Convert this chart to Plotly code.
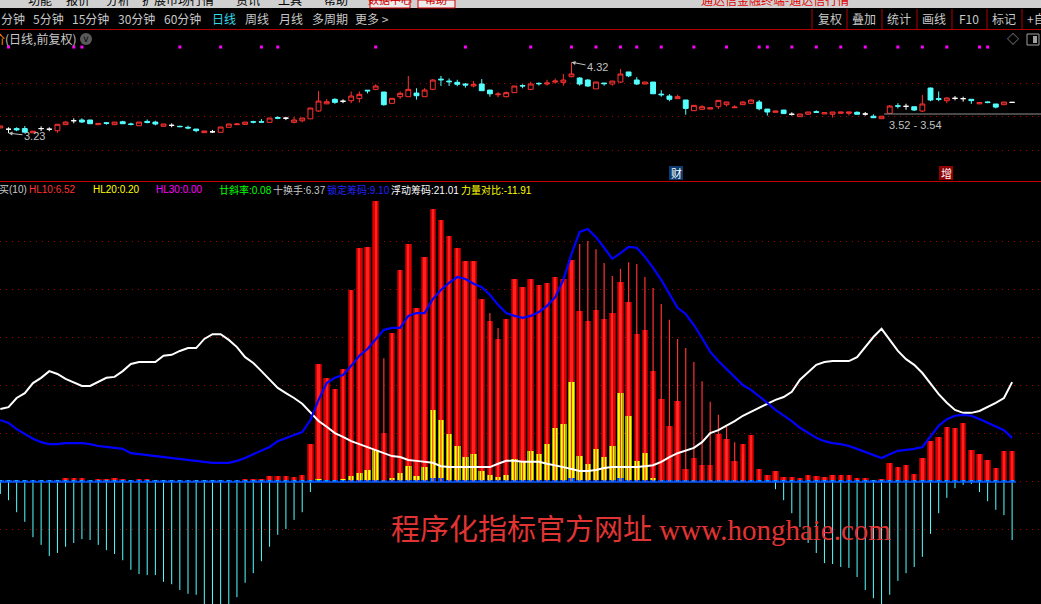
import plotly.graph_objects as go

W, H = 1041, 604
N = 125
idx = list(range(N))

# ---------------- candlestick data (price) ----------------
open_ = [3.31,3.29,3.30,3.30,3.235,3.30,3.29,3.267,3.36,3.421,
         3.432,3.432,3.36,3.39,3.36,3.405,3.37,3.344,3.41,3.40,
         3.335,3.35,3.335,3.32,3.293,3.237,3.25,3.243,3.32,3.36,
         3.365,3.405,3.405,3.396,3.47,3.46,3.396,3.42,3.45,3.57,
         3.68,3.75,3.72,3.728,3.76,3.89,3.903,3.862,3.688,3.79,
         3.79,3.846,3.79,3.903,4.06,4.03,4.01,3.985,3.955,3.985,
         3.892,3.82,3.79,3.852,3.96,3.903,3.995,3.985,4.015,4.01,
         4.097,4.077,4.046,3.91,4.0,3.985,4.015,4.17,4.046,3.985,
         4.015,3.83,3.80,3.76,3.739,3.575,3.596,3.60,3.636,3.667,
         3.62,3.667,3.688,3.708,3.60,3.55,3.585,3.52,3.483,3.52,
         3.56,3.525,3.52,3.535,3.535,3.55,3.524,3.49,3.452,3.535,
         3.65,3.642,3.636,3.57,3.923,3.76,3.728,3.765,3.76,3.75,
         3.68,3.71,3.678,3.667,3.703]
high = [3.34,3.32,3.32,3.34,3.26,3.335,3.32,3.366,3.416,3.458,
        3.458,3.432,3.38,3.40,3.40,3.42,3.39,3.40,3.44,3.42,
        3.37,3.38,3.345,3.345,3.293,3.263,3.28,3.324,3.37,3.385,
        3.40,3.42,3.445,3.462,3.49,3.48,3.48,3.462,3.616,3.876,
        3.754,3.765,3.75,3.87,3.87,3.89,3.98,3.862,3.765,3.87,
        4.108,3.92,3.92,4.06,4.11,4.07,4.05,4.0,4.03,4.06,
        3.892,3.86,3.87,3.954,3.98,4.02,4.01,4.05,4.07,4.14,
        4.32,4.09,4.06,4.015,4.0,4.03,4.215,4.17,4.09,4.015,
        4.015,3.89,3.83,3.82,3.739,3.657,3.66,3.62,3.734,3.708,
        3.66,3.72,3.75,3.739,3.60,3.57,3.585,3.55,3.524,3.555,
        3.58,3.545,3.555,3.555,3.555,3.565,3.555,3.52,3.49,3.66,
        3.69,3.682,3.636,3.816,3.93,3.87,3.78,3.80,3.79,3.75,
        3.70,3.72,3.678,3.708,3.703]
low = [3.31,3.23,3.26,3.235,3.235,3.263,3.26,3.237,3.36,3.381,
       3.386,3.375,3.36,3.36,3.36,3.375,3.35,3.344,3.38,3.35,
       3.335,3.32,3.32,3.29,3.243,3.237,3.235,3.243,3.32,3.36,
       3.365,3.38,3.40,3.396,3.445,3.43,3.38,3.396,3.45,3.555,
       3.68,3.68,3.69,3.69,3.70,3.84,3.89,3.65,3.688,3.755,
       3.79,3.745,3.79,3.89,3.955,3.955,3.95,3.93,3.935,3.882,
       3.79,3.78,3.78,3.852,3.92,3.89,3.96,3.96,3.99,3.96,
       4.09,3.96,3.94,3.91,3.96,3.96,4.0,4.09,3.97,3.985,
       3.835,3.79,3.72,3.76,3.513,3.575,3.596,3.60,3.60,3.64,
       3.62,3.667,3.688,3.58,3.50,3.55,3.53,3.50,3.483,3.52,
       3.54,3.525,3.47,3.535,3.50,3.52,3.498,3.467,3.452,3.535,
       3.61,3.59,3.57,3.555,3.72,3.72,3.69,3.734,3.714,3.68,
       3.68,3.69,3.61,3.667,3.703]
close = [3.34,3.29,3.28,3.245,3.26,3.30,3.29,3.366,3.40,3.421,
         3.401,3.375,3.38,3.38,3.40,3.375,3.365,3.40,3.395,3.37,
         3.37,3.35,3.33,3.31,3.268,3.263,3.25,3.324,3.37,3.37,
         3.40,3.40,3.40,3.462,3.46,3.46,3.432,3.462,3.616,3.723,
         3.713,3.703,3.72,3.80,3.826,3.88,3.954,3.667,3.765,3.842,
         3.903,3.805,3.892,4.046,4.05,4.02,3.98,3.97,3.98,3.882,
         3.835,3.83,3.852,3.954,3.955,3.985,3.99,4.0,4.03,4.046,
         4.14,3.985,3.954,4.015,3.99,4.03,4.138,4.11,3.985,4.015,
         3.835,3.82,3.75,3.79,3.61,3.657,3.636,3.62,3.734,3.708,
         3.63,3.708,3.739,3.605,3.555,3.57,3.53,3.52,3.524,3.555,
         3.55,3.545,3.555,3.555,3.555,3.52,3.524,3.467,3.49,3.647,
         3.645,3.642,3.585,3.678,3.739,3.75,3.77,3.765,3.76,3.73,
         3.70,3.70,3.63,3.708,3.703]

marker_days = [1, 9, 10, 22, 27, 32, 34, 46, 57, 65, 70, 73, 76, 78, 81, 85,
               89, 93, 94, 97, 100, 103, 106, 110, 113, 116, 120, 121]
marker_level = 4.553
price_grid = [2.971, 3.482, 3.995]
range_line_price = 3.524
range_line_start = 108.3

# ---------------- indicator data ----------------
red_bar = [0.3,0.2,0.3,0.2,0.2,0.2,0.3,0.5,0.9,0.9,
           0.9,0.5,0.7,0.7,0.9,0.7,0.5,0.7,0.7,0.5,
           0.5,0.5,0.3,0.3,0.2,0.2,0.2,0.3,0.5,0.5,
           0.7,0.7,0.7,1.3,1.3,1.3,1.0,1.5,7.9,24.6,
           21.7,19.4,23.5,40.0,48.8,49.0,58.5,10.2,31.0,44.2,
           49.6,36.3,46.9,56.9,54.6,51.3,48.8,46.0,46.0,38.1,
           33.5,29.8,34.0,42.3,40.6,42.3,41.0,41.5,42.7,42.3,
           46.3,35.6,33.5,35.8,34.0,35.2,41.7,37.5,30.8,31.7,
           23.1,17.3,11.7,16.9,2.7,5.0,3.5,3.5,10.0,9.0,
           4.4,7.9,9.8,2.7,1.5,2.3,1.0,1.0,0.8,1.5,
           1.3,1.0,1.5,1.5,1.5,0.8,0.8,0.4,0.6,4.0,
           3.1,3.5,1.7,5.0,8.5,9.4,11.5,11.3,12.3,6.7,
           5.8,4.6,2.9,6.5,6.5]
thin_line = [0]*47 + [25.8] + [0]*12 + [35.2, 32.1] + [0]*9 + \
            [49.6,50.2,48.5,45.6,42.9,44.4,45.8,45.4,42.7,
             40.4,37.1,33.8,29.8,27.9,25.0,21.0,16.7,14.0,11.5,
             8.3,5.6] + [0]*33
yellow_bar = [0]*39 + [0.6,
              0.4,0.4,0.6,1.3,1.9,2.5,6.7,0.2,0.8,1.9,
              3.3,1.3,3.1,15.0,12.9,10.0,7.5,5.2,5.8,2.3,
              1.5,1.0,1.5,4.8,4.2,6.5,5.8,7.9,11.3,12.1,
              20.8,5.4,3.8,6.9,5.2,7.5,18.5,13.8,4.4,6.0,
              0.9,0.4,0.4,0.4,0.2,0.2,0.2,0.2,0.2,0.2,
              0.2,0.2,0.2] + [0]*21 + [0.4]*5 + [0]*6
blue_bar = [0.3]*37 + [0.4]*16 + [0.8, 0.8] + [0.4]*13 + [0.5, 0.5, 0.9] + \
           [0.4]*5 + [0.9] + [0.4]*16 + [0.3]*32
cyan_line = [-2.5,-3.8,-6.3,-8.3,-11.5,-13.1,-15.4,-14.8,-13.5,-12.7,
             -11.9,-12.1,-13.1,-14.2,-15.0,-16.3,-18.3,-19.2,-19.4,-19.4,
             -20.8,-21.3,-22.5,-23.3,-23.5,-26.5,-28.0,-28.5,-27.0,-24.0,
             -21.0,-19.0,-16.5,-13.5,-11.0,-9.8,-7.9,-6.3,-2.1] + [0]*56 + \
            [-1.5,-3.8,-6.5,-9.4,-12.7,
             -14.8,-16.9,-17.1,-17.7,-17.9,-19.8,-22.5,-24.2,-26.5,-23.5,
             -20.6,-19.0,-17.7,-15.6,-10.8,-6.5,-3.3,-1.3,-0.6,-0.4,
             -2.1,-4.0,-5.8,-6.9,-12.1]
white_line = [15.2,15.6,17.5,18.5,20.6,21.7,23.1,22.5,21.5,20.8,
              20.0,20.0,20.8,21.7,21.9,23.1,24.6,25.0,25.0,25.0,
              26.3,26.5,27.3,27.9,27.9,29.8,30.8,30.8,29.6,28.1,
              26.0,24.8,23.1,21.3,19.6,18.5,17.5,16.3,14.6,12.7,
              11.5,10.2,9.4,8.5,7.9,7.3,6.7,6.0,5.4,5.2,
              4.6,4.4,4.2,4.0,3.3,3.1,3.1,3.1,3.1,3.1,
              3.1,3.8,4.4,4.4,4.2,4.2,4.2,3.8,3.5,3.1,
              2.7,2.3,2.3,2.5,2.9,3.1,3.1,3.1,3.1,3.3,
              3.5,4.2,5.2,6.0,6.5,7.1,8.3,10.2,10.8,11.7,
              12.7,13.8,14.6,15.4,16.3,17.1,17.7,18.8,21.3,22.9,
              24.4,25.0,25.2,25.2,25.2,26.0,28.1,30.2,31.9,29.6,
              27.3,25.6,24.4,22.7,20.6,18.3,16.5,15.0,14.4,14.4,
              14.8,15.6,16.5,17.5,20.8]
blue_line = [12.9,12.3,11.0,10.0,9.0,8.3,7.9,7.9,8.1,8.1,
             8.1,7.9,7.5,7.3,7.1,6.9,6.0,5.8,5.6,5.4,
             5.2,5.0,4.8,4.6,4.4,4.2,4.0,4.0,4.0,4.4,
             5.0,5.8,6.5,7.3,8.5,9.2,9.8,10.4,12.9,17.1,
             20.6,21.7,22.3,24.2,26.3,27.7,29.8,31.7,32.1,32.1,
             34.6,35.2,35.2,38.1,40.0,41.5,42.7,42.3,41.3,40.6,
             39.0,36.9,35.2,34.6,34.2,34.6,35.4,36.7,38.5,42.1,
             47.5,52.1,52.7,51.0,48.8,46.5,47.7,49.0,48.8,46.9,
             44.6,42.1,39.2,36.3,35.0,32.7,30.0,27.1,25.2,23.5,
             21.9,20.2,19.2,17.9,16.5,15.0,13.8,12.7,11.3,10.2,
             9.2,8.5,8.1,7.9,7.5,6.9,6.3,5.6,5.0,5.8,
             6.5,6.7,6.9,7.3,9.6,11.7,13.1,13.8,14.0,13.8,
             13.1,12.3,11.5,10.8,9.2]
ind_grid = [-10, 0, 10, 20, 30, 40, 50]

for arr in (open_, high, low, close, red_bar, thin_line, yellow_bar, blue_bar,
            cyan_line, white_line, blue_line):
    assert len(arr) == N, len(arr)

# ---------------- text ----------------
menu_items = ["分钟", "5分钟", "15分钟", "30分钟", "60分钟", "日线", "周线", "月线", "多周期", "更多 >"]
menu_x = [0, 32, 71, 117, 163, 211, 244, 278, 311, 354]
button_items = ["复权", "叠加", "统计", "画线", "F10", "标记", "+自"]
button_x = [830, 864, 899, 934, 969, 1004, 1036]
button_sep = [812, 847, 882, 917, 952, 987, 1022]
top_items = ["功能", "报价", "分析", "扩展市场行情", "资讯", "工具", "帮助"]
top_x = [40, 78, 118, 178, 248, 290, 336]
legend_items = [("买(10)", "#c8c8c8", -2), ("HL10:6.52", "#ff3232", 28),
                ("HL20:0.20", "#ffff00", 92), ("HL30:0.00", "#ff00ff", 155),
                ("廿斜率:0.08", "#00ff00", 218), ("十换手:6.37", "#c8c8c8", 272),
                ("锁定筹码:9.10", "#2424ff", 326), ("浮动筹码:21.01", "#ffffff", 390),
                ("力量对比:-11.91", "#ffff00", 460)]
legend_font = "Liberation Sans, Noto Sans CJK SC"

# ---------------- figure ----------------
fig = go.Figure()

# indicator bars (lower panel)
fig.add_trace(go.Bar(x=idx, y=red_bar, width=0.8, marker=dict(color="#980000", line=dict(width=0))))
fig.add_trace(go.Bar(x=idx, y=red_bar, width=0.55, marker=dict(color="#dc0000", line=dict(width=0))))
fig.add_trace(go.Bar(x=idx, y=red_bar, width=0.28, marker=dict(color="#ff2020", line=dict(width=0))))
fig.add_trace(go.Bar(x=idx, y=yellow_bar, width=0.8, marker=dict(color="#a8a800", line=dict(width=0))))
fig.add_trace(go.Bar(x=idx, y=yellow_bar, width=0.5, marker=dict(color="#ffff00", line=dict(width=0))))
fig.add_trace(go.Bar(x=idx, y=blue_bar, width=0.8, marker=dict(color="#0040e0", line=dict(width=0))))
fig.add_trace(go.Bar(x=idx, y=blue_bar, width=0.35, marker=dict(color="#10a0ff", line=dict(width=0))))

# thin red sticks (visible above bars / as stripe in yellow bars)
tx, ty = [], []
for i in idx:
    v = max(thin_line[i], yellow_bar[i] if yellow_bar[i] >= 0.8 else 0)
    if v > 0:
        tx += [i, i, None]
        ty += [0, v, None]
fig.add_trace(go.Scatter(x=tx, y=ty, mode="lines", line=dict(color="#ff3030", width=1.2), hoverinfo="skip"))

# cyan sticks downward
cx, cy = [], []
for i in idx:
    if cyan_line[i] < 0:
        cx += [i, i, None]
        cy += [0, cyan_line[i], None]
fig.add_trace(go.Scatter(x=cx, y=cy, mode="lines", line=dict(color="#54ffff", width=1), hoverinfo="skip"))

fig.add_trace(go.Scatter(x=idx, y=white_line, mode="lines", line=dict(color="#ffffff", width=2)))
fig.add_trace(go.Scatter(x=idx, y=blue_line, mode="lines", line=dict(color="#0000ff", width=2.2)))

# candlesticks (upper panel)
nd = [i for i in idx if open_[i] != close[i]]
dj = [i for i in idx if open_[i] == close[i]]
fig.add_trace(go.Candlestick(
    x=nd, open=[open_[i] for i in nd], high=[high[i] for i in nd],
    low=[low[i] for i in nd], close=[close[i] for i in nd],
    yaxis="y2", xaxis="x",
    increasing=dict(line=dict(color="#ff3232", width=1), fillcolor="#000000"),
    decreasing=dict(line=dict(color="#54ffff", width=1), fillcolor="#54ffff"),
    whiskerwidth=0, hoverinfo="skip"))
fig.add_trace(go.Candlestick(
    x=dj, open=[open_[i] for i in dj], high=[high[i] for i in dj],
    low=[low[i] for i in dj], close=[close[i] for i in dj],
    yaxis="y2", xaxis="x",
    increasing=dict(line=dict(color="#ffffff", width=1), fillcolor="#ffffff"),
    decreasing=dict(line=dict(color="#ffffff", width=1), fillcolor="#ffffff"),
    whiskerwidth=0, hoverinfo="skip"))
fig.add_trace(go.Scatter(x=marker_days, y=[marker_level]*len(marker_days), yaxis="y2",
                         mode="markers", marker=dict(symbol="square", size=3, color="#ff00ff"),
                         hoverinfo="skip"))

px2x = lambda px: px / W
py2y = lambda py: 1 - py / H

shapes = []
annotations = []


def txt(px, py, s, color, size=12, anchor="left", family="Noto Sans CJK SC, Liberation Sans"):
    annotations.append(dict(xref="paper", yref="paper", x=px2x(px), y=py2y(py), text=s,
                            showarrow=False, xanchor=anchor, yanchor="middle", borderpad=0,
                            font=dict(color=color, size=size, family=family)))


def rect(x0, y0, x1, y1, fill, line=None, lw=0):
    shapes.append(dict(type="rect", xref="paper", yref="paper", x0=px2x(x0), x1=px2x(x1),
                       y0=py2y(y1), y1=py2y(y0), fillcolor=fill,
                       line=dict(color=line or fill, width=lw), layer="above"))


def hline(x0, x1, py, color, width=1):
    shapes.append(dict(type="line", xref="paper", yref="paper", x0=px2x(x0), x1=px2x(x1),
                       y0=py2y(py), y1=py2y(py), line=dict(color=color, width=width), layer="above"))


def vline(px, y0, y1, color, width=1):
    shapes.append(dict(type="line", xref="paper", yref="paper", x0=px2x(px), x1=px2x(px),
                       y0=py2y(y0), y1=py2y(y1), line=dict(color=color, width=width), layer="above"))


# top gray menu strip (cut off by the window edge)
rect(0, 0, W, 8, "#d0d0d0")
for s, x in zip(top_items, top_x):
    txt(x, -1, s, "#000000", 12, "center")
rect(370, 0, 410, 8, "#ececec", "#d00000", 1)
rect(418, 0, 455, 8, "#ececec", "#d00000", 1)
txt(390, -1, "数据中心", "#d00000", 11, "center")
txt(436, -1, "帮助", "#d00000", 11, "center")
txt(775, -1, "通达信金融终端-通达信行情", "#e00000", 12, "center")

# period row
for s, x in zip(menu_items, menu_x):
    txt(x, 19, s, "#35d8e8" if s == "日线" else "#c8c8c8", 12)
for s, x in zip(button_items, button_x):
    txt(x, 19, s, "#c8c8c8", 12, "center")
for x in button_sep:
    vline(x, 9, 29, "#b00000", 1)
hline(0, W, 29.5, "#b00000", 1)

# title row
txt(6, 39, "价", "#ff8a00", 12, "right")
txt(4, 39, "(日线,前复权)", "#c8c8c8", 12)
shapes.append(dict(type="circle", xref="paper", yref="paper", x0=px2x(80), x1=px2x(92),
                   y0=py2y(45), y1=py2y(33), fillcolor="#5a5a5a", line=dict(width=0), layer="above"))
txt(86, 39, "˅", "#000000", 10, "center")
txt(1013, 39, "◇", "#a0a0a0", 12, "center")
rect(1027, 34, 1039, 45, "#000000", "#a0a0a0", 1)
rect(1033, 36, 1037, 43, "#a0a0a0")

# price annotations
annotations.append(dict(x=1, y=low[1], xref="x", yref="y2", text="3.23", showarrow=True,
                        ax=26, ay=3, arrowhead=2, arrowsize=0.8, arrowwidth=1, arrowcolor="#c0c0c0",
                        font=dict(color="#c0c0c0", size=11, family="Liberation Sans")))
annotations.append(dict(x=70, y=high[70], xref="x", yref="y2", text="4.32", showarrow=True,
                        ax=26, ay=5, arrowhead=2, arrowsize=0.8, arrowwidth=1, arrowcolor="#c0c0c0",
                        font=dict(color="#c0c0c0", size=11, family="Liberation Sans")))
shapes.append(dict(type="line", xref="x", yref="y2", x0=range_line_start, x1=127.6,
                   y0=range_line_price, y1=range_line_price, line=dict(color="#909090", width=1)))
txt(915, 125, "3.52 - 3.54", "#c0c0c0", 11, "center", "Liberation Sans")

# event tags
rect(669, 166, 683, 180, "#0d3c70")
txt(676, 173, "财", "#ffffff", 11, "center")
rect(939, 166, 953, 180, "#900000")
txt(946, 173, "增", "#ffffff", 11, "center")

# separator + indicator legend
hline(0, W, 181.5, "#c00000", 1)
for s, c, x in legend_items:
    txt(x, 190, s, c, 10, "left", legend_font)

# zero baseline
shapes.append(dict(type="line", xref="paper", yref="y", x0=0, x1=px2x(1016), y0=0, y1=0,
                   line=dict(color="#0a5aff", width=1.5), layer="above"))

# watermark
txt(641, 530, "程序化指标官方网址 www.honghaie.com", "#e03434", 29, "center",
    "Liberation Serif, Noto Sans CJK SC")

grid_style = dict(showgrid=True, griddash="1px,5px", gridcolor="#a00000", gridwidth=1,
                  showticklabels=False, zeroline=False, showline=False, ticks="",
                  fixedrange=True)

fig.update_layout(
    width=W, height=H, margin=dict(l=0, r=0, t=0, b=0),
    paper_bgcolor="#000000", plot_bgcolor="#000000", showlegend=False,
    barmode="overlay", bargap=0, boxgap=0.15,
    font=dict(family="Noto Sans CJK SC, Liberation Sans", color="#c8c8c8"),
    xaxis=dict(range=[-0.04, 127.54], visible=False, rangeslider=dict(visible=False),
               fixedrange=True),
    yaxis=dict(domain=[0, py2y(195)], range=[-25.42, 59.79], tickvals=ind_grid, **grid_style),
    yaxis2=dict(domain=[py2y(175), py2y(40)], range=[2.587, 4.661], anchor="x",
                tickvals=price_grid, **grid_style),
    shapes=shapes, annotations=annotations,
)

fig.write_html("out.html", config={"displayModeBar": False},
               post_script="document.body.style.margin='0';document.body.style.background='#000';")
